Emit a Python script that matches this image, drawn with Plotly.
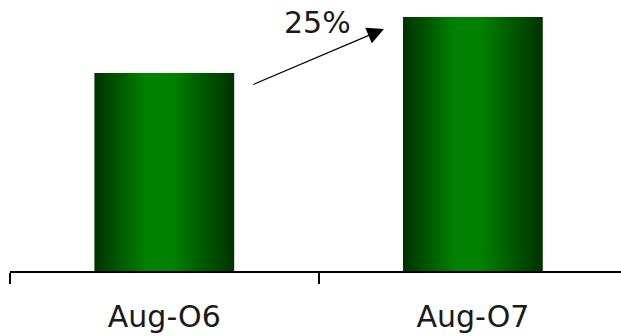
import plotly.graph_objects as go

categories = ["Aug-O6", "Aug-O7"]
values = [78, 100]
change_label = "25%"

BAR_W = 0.453
PEAK = 0.45
N = 30
dark = (0, 52, 0)
bright = (0, 130, 0)

fig = go.Figure()
for k in range(N):
    t = k / (N - 1)
    left = -BAR_W / 2 + t * PEAK * BAR_W * 0.85
    right = BAR_W / 2 - t * (1 - PEAK) * BAR_W * 0.85
    s = min(1.0, t / 0.95)
    c = tuple(int(round(dark[i] + (bright[i] - dark[i]) * s)) for i in range(3))
    fig.add_trace(go.Bar(
        x=categories, y=values,
        width=right - left, offset=left,
        marker=dict(color=f"rgb{c}", line=dict(width=0)),
        hoverinfo="skip", showlegend=False,
    ))

fig.add_annotation(
    x=0.712, y=95.3, ax=0.284, ay=73.2,
    xref="x", yref="y", axref="x", ayref="y",
    text="", showarrow=True, arrowhead=2, arrowsize=2.8, arrowwidth=1.2,
    arrowcolor="#000000",
)
fig.add_annotation(
    x=0.495, y=98.0, xref="x", yref="y", text=change_label, showarrow=False,
    font=dict(family="Verdana, DejaVu Sans, sans-serif", size=30, color="#1a1a1a"),
)

fig.update_layout(
    width=621, height=336,
    margin=dict(l=10, r=0, t=0, b=65),
    paper_bgcolor="white", plot_bgcolor="white",
    barmode="overlay",
    xaxis=dict(
        type="category", range=[-0.5, 1.48],
        showline=True, linecolor="#000000", linewidth=1.5,
        ticks="outside", tickson="boundaries", ticklen=11, tickcolor="#000000", tickwidth=1.5,
        showgrid=False, zeroline=False,
        tickfont=dict(family="Verdana, DejaVu Sans, sans-serif", size=30, color="#1a1a1a"),
        ticklabelstandoff=18,
    ),
    yaxis=dict(range=[0, 106.7], visible=False, showgrid=False, zeroline=False),
)

fig.write_html("out.html")
